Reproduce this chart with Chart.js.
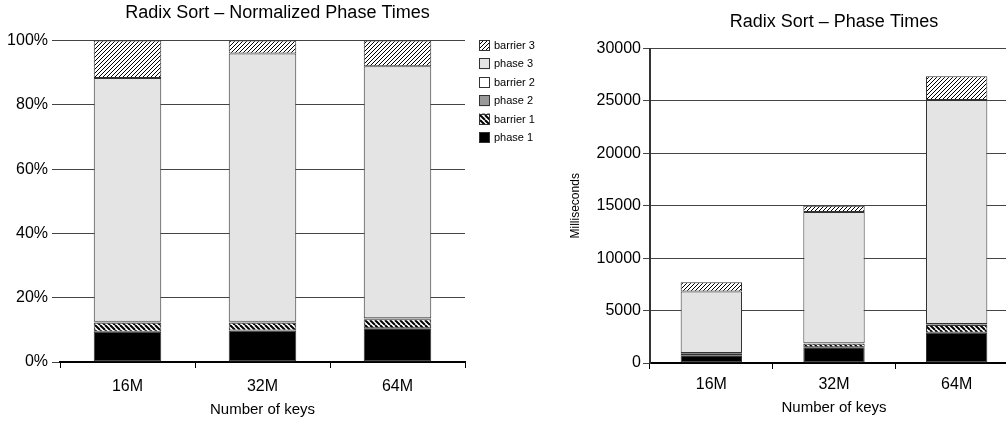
<!DOCTYPE html>
<html>
<head>
<meta charset="utf-8">
<script src="https://cdn.jsdelivr.net/npm/chart.js@4/dist/chart.umd.min.js"></script>
<style>
html, body { margin: 0; padding: 0; background: #fff; overflow: hidden; width: 1006px; height: 421px; }
#left { position: absolute; left: 0; top: 0; }
#right { position: absolute; left: 550px; top: 0; }
</style>
</head>
<body>
<canvas id="left" width="555" height="421"></canvas>
<canvas id="right" width="490" height="421"></canvas>
<script>
const categories = ['16M', '32M', '64M'];
const seriesNames = ['phase 1', 'barrier 1', 'phase 2', 'barrier 2', 'phase 3', 'barrier 3'];

// normalized phase times, percent of total
const pctPhase1 = [9.4, 9.8, 10.5];
const pctBarrier1 = [2.8, 2.4, 2.8];
const pctPhase2 = [0.2, 0.2, 0.2];
const pctBarrier2 = [0.1, 0.1, 0.1];
const pctPhase3 = [75.9, 83.5, 78.4];
const pctBarrier3 = [11.6, 4.0, 8.0];

// phase times, milliseconds
const msPhase1 = [730, 1500, 2880];
const msBarrier1 = [210, 330, 750];
const msPhase2 = [15, 30, 55];
const msBarrier2 = [10, 15, 25];
const msPhase3 = [5850, 12525, 21390];
const msBarrier3 = [900, 600, 2250];

const pctTicks = [0, 20, 40, 60, 80, 100];
const msTicks = [0, 5000, 10000, 15000, 20000, 25000, 30000];

const FONT = '"Liberation Sans", Arial, sans-serif';
Chart.defaults.font.family = FONT;
Chart.defaults.color = '#000';

// diagonal hatch tile, dir 1 = "/", -1 = "\"
function hatch(size, width, dir) {
    const c = document.createElement('canvas');
    c.width = size; c.height = size;
    const g = c.getContext('2d');
    g.fillStyle = '#fff';
    g.fillRect(0, 0, size, size);
    g.strokeStyle = '#000';
    g.lineWidth = width;
    for (let k = -size; k <= size; k += size) {
        g.beginPath();
        if (dir > 0) { g.moveTo(k, size); g.lineTo(k + size, 0); }
        else { g.moveTo(k, 0); g.lineTo(k + size, size); }
        g.stroke();
    }
    return g.createPattern(c, 'repeat');
}

const fills = ['#000', hatch(5, 2, -1), '#999', '#fff', '#e4e4e4', hatch(4, 1, 1)];

function makeDatasets(values) {
    return values.map((v, i) => ({
        label: seriesNames[i], data: v,
        backgroundColor: fills[i],
        borderColor: '#333', borderWidth: 1, borderSkipped: false,
        categoryPercentage: 1, barPercentage: 0.5
    }));
}

// legend drawn beside the normalized chart
const boxLegend = {
    id: 'boxLegend',
    afterDraw(chart) {
        if (!chart.options.plugins.boxLegend) return;
        const ctx = chart.ctx;
        ctx.save();
        ctx.font = '11px ' + FONT;
        ctx.textBaseline = 'middle';
        chart.data.datasets.slice().reverse().forEach((d, i) => {
            const y = 40 + i * 18.4;
            ctx.fillStyle = d.backgroundColor;
            ctx.fillRect(479, y, 11, 11);
            ctx.strokeStyle = '#333';
            ctx.lineWidth = 1;
            ctx.strokeRect(479.5, Math.round(y) + 0.5, 10, 10);
            ctx.fillStyle = '#000';
            ctx.fillText(d.label, 494, y + 6);
        });
        ctx.restore();
    }
};

function xAxis(tickPad, titlePad, height) {
    return {
        stacked: true,
        grid: { offset: true, drawOnChartArea: false, drawTicks: true, tickLength: 6, color: '#000' },
        border: { color: '#000', width: 2 },
        ticks: { font: { size: 16 }, padding: tickPad },
        title: { display: true, text: 'Number of keys', font: { size: 15 }, padding: { top: 0, bottom: titlePad } },
        afterFit: s => { s.height = height; }
    };
}

new Chart(document.getElementById('left').getContext('2d'), {
    type: 'bar',
    data: {
        labels: categories,
        datasets: makeDatasets([pctPhase1, pctBarrier1, pctPhase2, pctBarrier2, pctPhase3, pctBarrier3])
    },
    options: {
        responsive: false, animation: false,
        scales: {
            x: xAxis(9, 2, 59),
            y: {
                stacked: true, min: 0, max: 100,
                afterBuildTicks: s => { s.ticks = pctTicks.map(v => ({ value: v })); },
                grid: { color: '#444', tickLength: 8 },
                border: { display: false },
                ticks: { font: { size: 16 }, padding: 4, callback: v => v + '%' },
                afterFit: s => { s.width = 60; }
            },
            // empty strip on the right that holds the legend
            side: {
                type: 'linear', position: 'right',
                grid: { display: false }, border: { display: false }, ticks: { display: false },
                afterFit: s => { s.width = 90; }
            }
        },
        plugins: {
            legend: { display: false },
            tooltip: { enabled: false },
            boxLegend: true,
            title: {
                display: true, text: 'Radix Sort \u2013 Normalized Phase Times',
                font: { size: 18, weight: 'normal' }, color: '#000', padding: { top: 2, bottom: 17 }
            }
        }
    },
    plugins: [boxLegend]
});

new Chart(document.getElementById('right').getContext('2d'), {
    type: 'bar',
    data: {
        labels: categories,
        datasets: makeDatasets([msPhase1, msBarrier1, msPhase2, msBarrier2, msPhase3, msBarrier3])
    },
    options: {
        responsive: false, animation: false,
        layout: { padding: { right: 22 } },
        scales: {
            x: xAxis(6, 4, 58),
            y: {
                stacked: true, min: 0, max: 30000,
                afterBuildTicks: s => { s.ticks = msTicks.map(v => ({ value: v })); },
                grid: { color: '#444', tickLength: 7 },
                border: { display: true, color: '#333', width: 2 },
                ticks: { font: { size: 16 }, padding: 2, callback: v => String(v) },
                title: { display: true, text: 'Milliseconds', font: { size: 12 }, padding: { top: 18, bottom: 0 } },
                afterFit: s => { s.width = 100; }
            }
        },
        plugins: {
            legend: { display: false },
            tooltip: { enabled: false },
            title: {
                display: true, text: 'Radix Sort \u2013 Phase Times', fullSize: false,
                font: { size: 18, weight: 'normal' }, color: '#000', padding: { top: 11, bottom: 16 }
            }
        }
    }
});
</script>
</body>
</html>
